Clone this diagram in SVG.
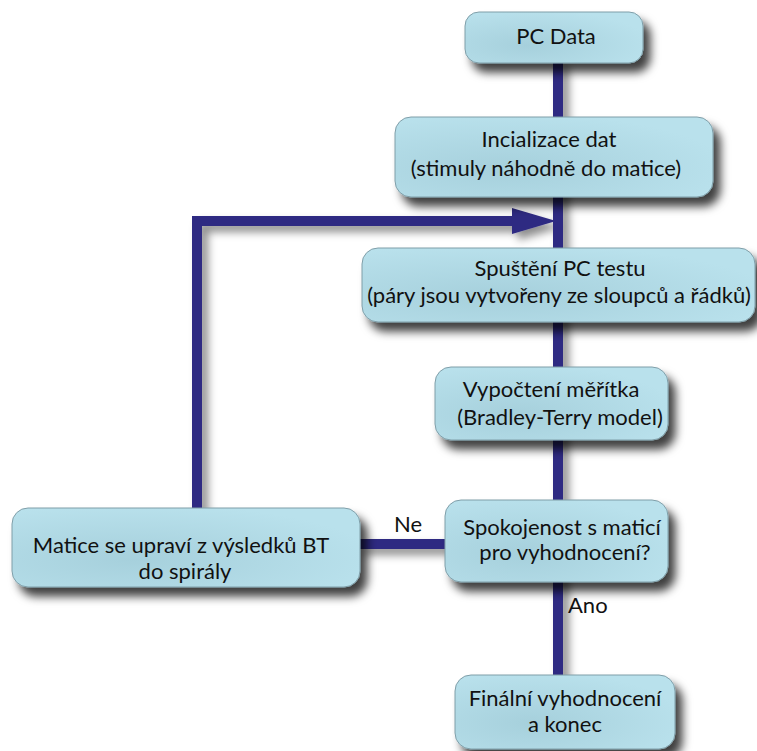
<svg xmlns="http://www.w3.org/2000/svg" width="757" height="751" viewBox="0 0 757 751">
<defs>
<filter id="sh" x="-20%" y="-30%" width="150%" height="180%">
<feDropShadow dx="7" dy="9" stdDeviation="5" flood-color="#000" flood-opacity="0.75"/>
</filter>
<filter id="lsh" filterUnits="userSpaceOnUse" x="0" y="0" width="757" height="751">
<feDropShadow dx="6" dy="6" stdDeviation="4" flood-color="#000" flood-opacity="0.45"/>
</filter>
<radialGradient id="bg" cx="0.35" cy="0.65" r="0.7">
<stop offset="0" stop-color="#a6d0dc"/>
<stop offset="1" stop-color="#b9e1ec"/>
</radialGradient>
</defs>
<style>
.box{fill:url(#bg);stroke:#7f9ea8;stroke-width:1;filter:url(#sh)}
.t{font-family:Lato,"Open Sans","Liberation Sans",sans-serif;font-size:22px;fill:#111;text-anchor:middle}
.c{stroke:#2e2a82;stroke-width:10;fill:none}
.lbl{font-family:Lato,"Open Sans","Liberation Sans",sans-serif;font-size:22px;fill:#111}
</style>
<rect width="757" height="751" fill="#fff"/>
<g id="connectors">
<g filter="url(#lsh)">
<line class="c" x1="558" y1="60" x2="558" y2="678"/>
<polyline class="c" points="197,510 197,221 513,221"/>
<path d="M512,208 L556,221 L512,234 Z" fill="#2e2a82"/>
<line class="c" x1="358" y1="544" x2="447" y2="544"/>
</g>
<text class="lbl" x="408" y="532" text-anchor="middle">Ne</text>
<text class="lbl" x="568" y="613">Ano</text>
</g>
<g id="pcdata">
<rect class="box" x="465" y="12" width="178" height="51" rx="14"/>
<text class="t" x="556" y="44">PC Data</text>
</g>
<g id="init">
<rect class="box" x="395" y="117" width="318" height="80" rx="16"/>
<text class="t" x="549" y="147">Incializace dat</text>
<text class="t" x="546" y="176">(stimuly náhodně do matice)</text>
</g>
<g id="spusteni">
<rect class="box" x="362" y="248" width="393" height="74" rx="16"/>
<text class="t" x="560" y="276">Spuštění PC testu</text>
<text class="t" x="559" y="303">(páry jsou vytvořeny ze sloupců a řádků)</text>
</g>
<g id="vypocteni">
<rect class="box" x="435" y="367" width="233" height="73" rx="16"/>
<text class="t" x="551" y="397">Vypočtení měřítka</text>
<text class="t" x="560" y="425">(Bradley-Terry model)</text>
</g>
<g id="matice">
<rect class="box" x="12" y="508" width="348" height="79" rx="16"/>
<text class="t" x="181" y="553">Matice se upraví z výsledků BT</text>
<text class="t" x="185" y="579">do spirály</text>
</g>
<g id="spokojenost">
<rect class="box" x="445" y="500" width="223" height="82" rx="16"/>
<text class="t" x="562" y="535">Spokojenost s maticí</text>
<text class="t" x="565" y="560">pro vyhodnocení?</text>
</g>
<g id="finalni">
<rect class="box" x="455" y="675" width="220" height="74" rx="16"/>
<text class="t" x="565" y="706">Finální vyhodnocení</text>
<text class="t" x="565" y="732">a konec</text>
</g>
</svg>
